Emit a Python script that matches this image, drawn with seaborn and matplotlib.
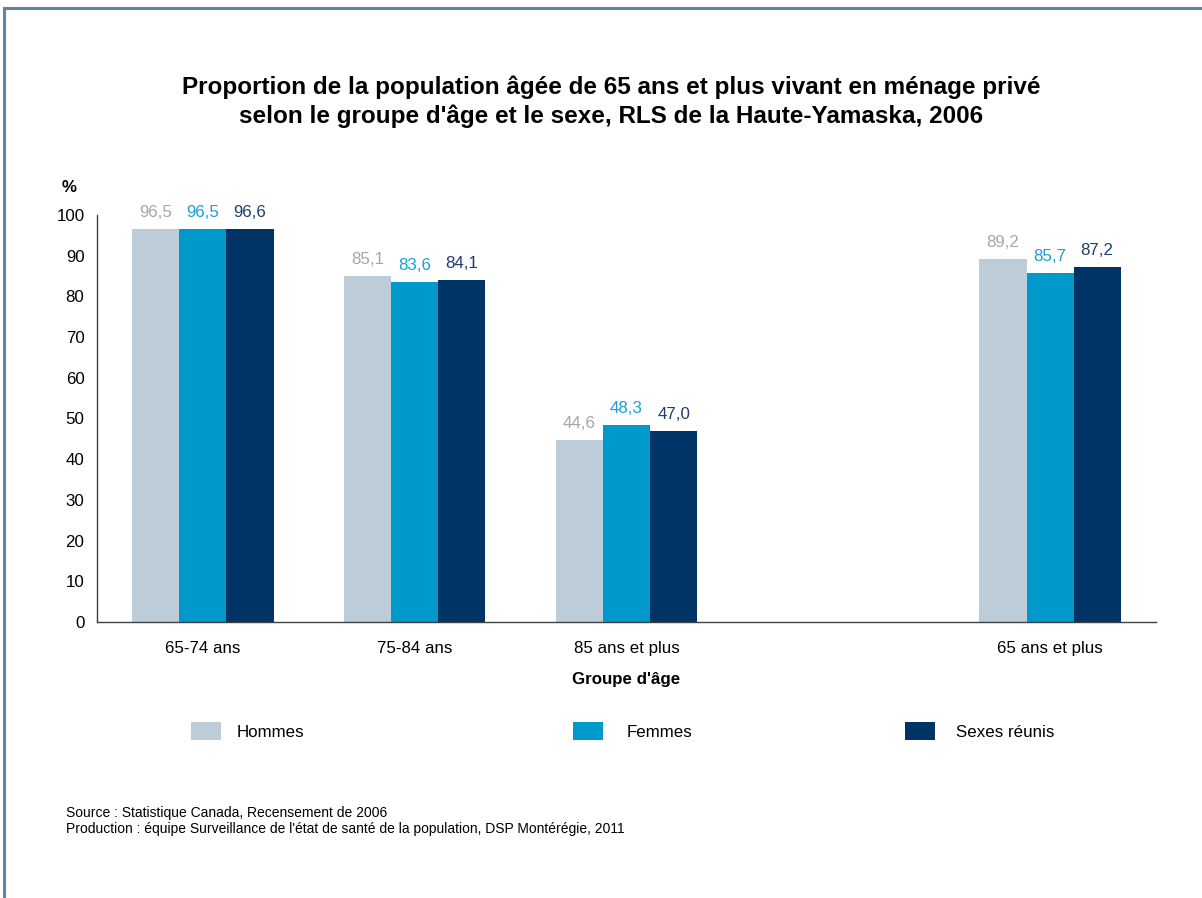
import matplotlib
matplotlib.use("Agg")
import matplotlib.pyplot as plt
from matplotlib.lines import Line2D
from matplotlib.patches import Patch
import numpy as np
import pandas as pd
import seaborn as sns

# ---- data ----
groups = ["65-74 ans", "75-84 ans", "85 ans et plus", "65 ans et plus"]
order = ["65-74 ans", "75-84 ans", "85 ans et plus", "", "65 ans et plus"]
series = ["Hommes", "Femmes", "Sexes réunis"]
hommes = [96.5, 85.1, 44.6, 89.2]
femmes = [96.5, 83.6, 48.3, 85.7]
sexes = [96.6, 84.1, 47.0, 87.2]
yticks = list(range(0, 101, 10))

bar_colors = ["#BDCCD9", "#0099CC", "#003366"]
label_colors = ["#A6A6A6", "#1A9FD6", "#1F3D6E"]

rows = []
for name, vals in zip(series, [hommes, femmes, sexes]):
    for g, v in zip(groups, vals):
        rows.append({"groupe": g, "sexe": name, "valeur": v})
df = pd.DataFrame(rows)

sns.set_theme(style="white")
plt.rcParams["font.family"] = ["Liberation Sans", "DejaVu Sans"]
plt.rcParams["text.color"] = "#000000"
plt.rcParams["axes.labelcolor"] = "#000000"

FS = 12.2

fig = plt.figure(figsize=(12.02, 8.98), dpi=100)
ax = fig.add_axes([97 / 1202, 1 - 622 / 898, (1156 - 97) / 1202, (622 - 215) / 898])

sns.barplot(data=df, x="groupe", y="valeur", hue="sexe", order=order,
            hue_order=series, palette=bar_colors, saturation=1, width=0.667,
            errorbar=None, legend=False, linewidth=0, ax=ax)

for cont, vals, col in zip(ax.containers, [hommes, femmes, sexes], label_colors):
    labs = [f"{v:.1f}".replace(".", ",") for v in vals]
    ax.bar_label(cont, labels=labs, color=col, fontsize=FS, padding=6.5)

ax.set_ylim(0, 100)
ax.set_xlim(-0.5, 4.5)
ax.set_yticks(yticks)
ax.set_yticklabels([str(t) for t in yticks], fontsize=FS)
ax.set_xticks(range(len(order)))
ax.set_xticklabels(order, fontsize=FS)
ax.set_xticks(np.arange(-0.5, 5, 1), minor=True)
ax.tick_params(axis="x", which="major", length=0, pad=14, labelcolor="#000000")
ax.tick_params(axis="x", which="minor", length=6, width=1, color="#404040", direction="out")
ax.tick_params(axis="y", which="major", length=5, width=1, color="#404040", direction="out",
               pad=4, labelcolor="#000000")
for s in ["top", "right"]:
    ax.spines[s].set_visible(False)
for s in ["left", "bottom"]:
    ax.spines[s].set_color("#404040")
    ax.spines[s].set_linewidth(1)
ax.set_ylabel("")
ax.set_xlabel("Groupe d'âge", fontsize=FS, fontweight="bold", labelpad=11, color="#000000")

fig.text(62 / 1202, 1 - 187 / 898, "%", fontsize=FS, fontweight="bold",
         ha="left", va="center")

fig.text(611 / 1202, 1 - 102 / 898,
         "Proportion de la population âgée de 65 ans et plus vivant en ménage privé\n"
         "selon le groupe d'âge et le sexe, RLS de la Haute-Yamaska, 2006",
         ha="center", va="center", fontsize=17.5, fontweight="bold", linespacing=1.3)

# legend: one entry per series
leg_x = [191, 573, 905]
leg_pad = [0.9, 1.4, 1.22]
for name, col, x, p in zip(series, bar_colors, leg_x, leg_pad):
    fig.legend(handles=[Patch(facecolor=col, edgecolor="none", label=name)],
               loc="center left", bbox_to_anchor=(x / 1202, 1 - 731 / 898),
               frameon=False, fontsize=FS, handlelength=1.77, handleheight=1.2,
               handletextpad=p, borderpad=0, borderaxespad=0)

fig.text(66 / 1202, 1 - 812.5 / 898, "Source : Statistique Canada, Recensement de 2006",
         fontsize=10, va="center", ha="left")
fig.text(66 / 1202, 1 - 829.5 / 898,
         "Production : équipe Surveillance de l'état de santé de la population, DSP Montérégie, 2011",
         fontsize=10, va="center", ha="left")

# frame border
border = "#5F86A0"
fig.add_artist(Line2D([4 / 1202, 4 / 1202], [0, 1 - 7.5 / 898], transform=fig.transFigure,
                      color=border, linewidth=2.2, solid_capstyle="projecting"))
fig.add_artist(Line2D([4 / 1202, 1], [1 - 7.5 / 898, 1 - 7.5 / 898], transform=fig.transFigure,
                      color=border, linewidth=2.2, solid_capstyle="projecting"))

fig.savefig("out.png", dpi=100)
